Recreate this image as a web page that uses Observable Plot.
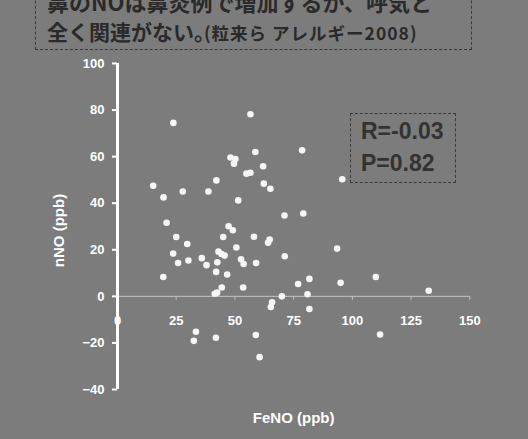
<!DOCTYPE html>
<html>
<head>
<meta charset="utf-8">
<script src="https://cdn.jsdelivr.net/npm/d3@7"></script>
<script src="https://cdn.jsdelivr.net/npm/@observablehq/plot@0.6"></script>
<style>
  html, body { margin: 0; padding: 0; }
  body { width: 528px; height: 439px; overflow: hidden; position: relative; background: #7c7c7c; }
  #chart { position: absolute; left: 0; top: 0; }
  .ttl { position: absolute; white-space: nowrap; color: #2a2a2a; font-family: "Noto Sans CJK JP", sans-serif; font-weight: bold; line-height: 1; }
  #tbox { position: absolute; left: 35px; top: -20px; width: 435px; height: 68px; border: 1px dashed #3a3a3a; }
  #sbox { position: absolute; left: 350px; top: 113px; width: 104px; height: 68px; border: 1.5px dashed #3a3a3a; }
  .st { position: absolute; left: 361px; white-space: nowrap; color: #333; font-family: "Liberation Sans", Arial, sans-serif; font-weight: bold; font-size: 23px; line-height: 1; }
</style>
</head>
<body>
<div id="tbox"></div>
<div class="ttl" style="left:47px; top:-10px; font-size:22px;">鼻のNOは鼻炎例で増加するが、呼気と</div>
<div class="ttl" style="left:47px; top:21px; font-size:21px;">全く関連がない。</div>
<div class="ttl" style="left:204px; top:24px; font-size:17.5px; letter-spacing:1px;">(粒来ら アレルギー2008)</div>
<div id="chart"></div>
<div id="sbox"></div>
<div class="st" style="top:120px;">R=-0.03</div>
<div class="st" style="top:152px;">P=0.82</div>
<script>
const feno = [23.8, 56.6, 58.7, 48.1, 50.2, 49.6, 62.0, 54.9, 56.6, 42.1, 15.2, 62.3, 65.1, 27.8, 38.7, 19.6, 51.4, 78.6, 95.7, 71.1,
              79.1, 20.9, 47.3, 49.1, 25.0, 45.0, 58.1, 64.8, 64.1, 29.7, 50.6, 93.5, 43.0, 23.7, 44.3, 45.6, 25.8, 30.2, 35.9, 37.9,
              42.5, 52.6, 53.7, 59.0, 71.2, 19.5, 42.0, 46.7, 44.4, 53.5, 42.4, 41.4, 76.9, 81.7, 95.0, 110.0, 70.0, 80.9, 65.8, 65.3,
              81.7, 132.5, 33.4, 32.5, 41.9, 58.9, 60.5, 111.8];
const nno  = [74.5, 78.2, 62.0, 59.6, 59.0, 57.0, 55.9, 52.7, 53.1, 49.8, 47.5, 48.4, 46.2, 45.0, 45.0, 42.5, 41.2, 62.7, 50.3, 34.7,
              35.6, 31.6, 30.1, 28.4, 25.5, 25.5, 25.6, 24.4, 23.0, 22.5, 21.0, 20.5, 19.2, 18.4, 18.2, 17.5, 14.3, 15.4, 16.4, 13.4,
              14.6, 15.9, 13.9, 14.3, 17.2, 8.3, 10.5, 9.4, 3.8, 3.8, 1.6, 1.1, 5.3, 7.5, 5.8, 8.3, 0.0, 0.9, -2.5, -4.6,
              -5.4, 2.4, -15.2, -19.1, -17.8, -16.6, -26.1, -16.4];
const xTicks = [0, 25, 50, 75, 100, 125, 150];
const yTicks = [-40, -20, 0, 20, 40, 60, 80, 100];
const xLabel = "FeNO (ppb)";
const yLabel = "nNO (ppb)";

const pts = feno.map((v, i) => ({x: v, y: nno[i]}));
const font = "'Liberation Sans', Arial, sans-serif";

const chart = Plot.plot({
  width: 528,
  height: 439,
  marginTop: 63,
  marginBottom: 50,
  marginLeft: 117,
  marginRight: 58.7,
  x: {domain: [0, 150], axis: null},
  y: {domain: [-40, 100], axis: null},
  style: {background: "transparent", fontFamily: font, overflow: "visible"},
  marks: [
    Plot.ruleY([0], {x1: 0, x2: 150, stroke: "#c2c2c2", strokeWidth: 1}),
    Plot.ruleX(xTicks, {x: d => d, y1: 0, y2: -1.7, stroke: "#c2c2c2", strokeWidth: 1}),
    Plot.text(xTicks, {x: d => d, y: 0, dy: 24, text: d => String(d), fill: "white", fontWeight: "bold", fontSize: 13}),
    Plot.axisY({ticks: yTicks, tickSize: 5, tickPadding: 8, color: "white", strokeWidth: 2, fontWeight: "bold", fontSize: 13, label: null}),
    Plot.ruleX([0], {y1: -40, y2: 100, stroke: "white", strokeWidth: 3}),
    Plot.dot(pts, {x: "x", y: "y", r: 3.3, fill: "#f5f5f5", stroke: null}),
    Plot.text([xLabel], {frameAnchor: "bottom", dy: 29, textAnchor: "middle", lineAnchor: "middle", text: d => d, fill: "white", fontWeight: "bold", fontSize: 15}),
    Plot.text([yLabel], {frameAnchor: "left", dx: -58, dy: 4, rotate: -90, textAnchor: "middle", lineAnchor: "middle", text: d => d, fill: "white", fontWeight: "bold", fontSize: 15})
  ]
});
document.getElementById("chart").appendChild(chart);
</script>
</body>
</html>
